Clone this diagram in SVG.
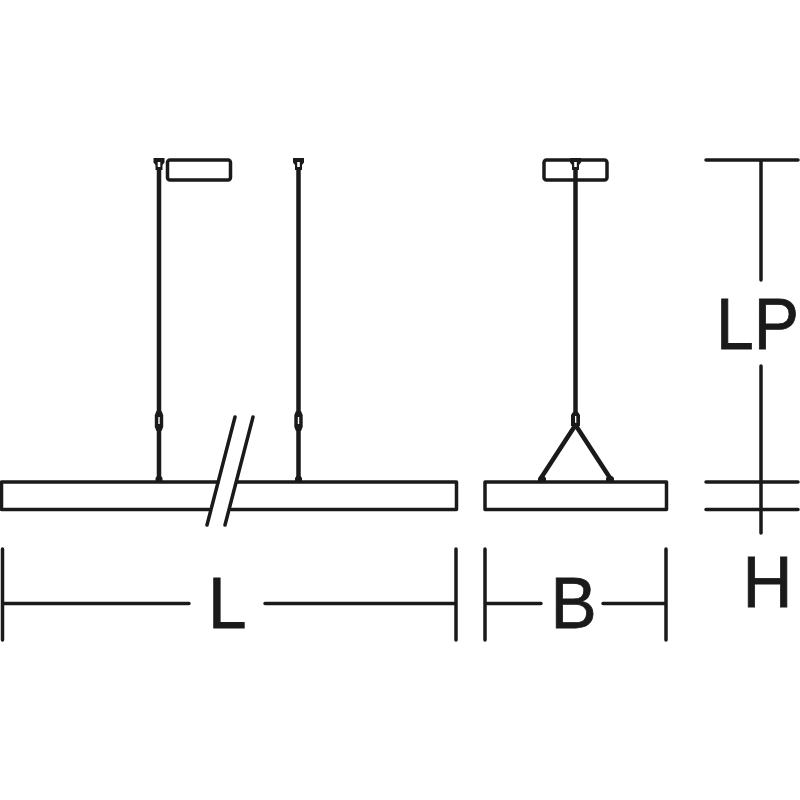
<svg xmlns="http://www.w3.org/2000/svg" width="800" height="800" viewBox="0 0 800 800">
<style>
.l{fill:none;stroke:#1a1a1a;stroke-width:3.500;stroke-linecap:round;stroke-linejoin:round}
.r{fill:none;stroke:#1a1a1a;stroke-width:4.500;stroke-linecap:butt}
.f{fill:#1a1a1a;stroke:none}
.t{font-family:"Liberation Sans",Arial,sans-serif;font-size:73px;fill:#1a1a1a;stroke:#1a1a1a;stroke-width:0.800}
</style>
<rect width="800" height="800" fill="#fff"/>
<defs>
<g id="clip"><path class="f" d="M-5.500 -2H5.500V2.500L3.500 5V10H-3.500V5L-5.500 2.500Z"/><rect x="-1.300" y="2" width="2.600" height="5" fill="#fff"/></g>
<g id="joint"><path class="f" d="M-2.500 -10H2.500L4.200 -6V6L2.500 10H-2.500L-4.200 6V-6Z"/><rect x="-0.700" y="-4" width="1.400" height="7" fill="#fff"/></g>
</defs>
<g id="canopy-front"><rect class="l" x="167.500" y="160" width="63" height="20" rx="2.500"/></g>
<g id="canopy-side"><rect class="l" x="544" y="160" width="63" height="20" rx="2.500"/></g>
<g id="suspension-left">
<path class="r" d="M159 165V480"/><use href="#clip" x="159" y="160"/><use href="#joint" x="159" y="421"/><path class="f" d="M155.500 483V478L157 476H161L162.500 478V483Z"/>
</g>
<g id="suspension-right">
<path class="r" d="M298.500 165V480"/><use href="#clip" x="298.500" y="160"/><use href="#joint" x="298.500" y="421"/><path class="f" d="M295 483V478L296.500 476H300.500L302 478V483Z"/>
</g>
<g id="suspension-side">
<path class="r" d="M575.500 165V415"/><use href="#clip" x="575.500" y="160"/>
<path class="f" d="M573 412H578L580 415V426H571V415Z"/><rect x="575" y="416" width="1.300" height="7" fill="#fff"/>
<path class="l" style="stroke-width:4.500" d="M541 478L575.500 425L610 478"/>
<path class="f" d="M538 483V478L540 476H544L546 478V483ZM606 483V478L608 476H612L614 478V483Z"/>
</g>
<g id="luminaire-front">
<path class="l" d="M218 482H1.500V509.500H209M231 509.500H456.500V482H237"/>
</g>
<g id="break-marks"><path class="l" d="M235 417L207 525M253 417L225 525"/></g>
<g id="luminaire-side"><rect class="l" x="485" y="482" width="181.500" height="27.500"/></g>
<g id="connectors">
<path class="l" d="M2.500 549V640M456 549V640M2.500 603.500H189M265 603.500H456"/>
<path class="l" d="M485 549V640M666 549V640M485 603.500H541M603 603.500H666"/>
<path class="l" d="M706 160H798M761 160V280M761 366V533M706 482H798M706 509.500H798"/>
</g>
<g id="labels">
<text class="t" transform="translate(208 628) scale(.95 1)">L</text>
<text class="t" transform="translate(550.500 628) scale(.95 1)">B</text>
<text class="t" transform="translate(716 348.500) scale(.93 1)">LP</text>
<text class="t" transform="translate(742.500 606.500) scale(.95 1)">H</text>
</g>
</svg>
